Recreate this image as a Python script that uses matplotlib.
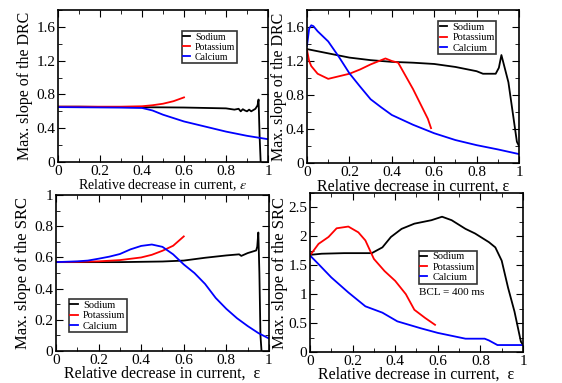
import numpy as np
import matplotlib.pyplot as plt
from matplotlib.ticker import MultipleLocator

plt.rcParams['font.family'] = ['Liberation Serif', 'DejaVu Serif']
plt.rcParams['mathtext.fontset'] = 'stix'

# --- panel 1: DRC, default BCL
x1_na = [0, 0.1, 0.2, 0.3, 0.4, 0.5, 0.6, 0.7, 0.8, 0.84, 0.86, 0.87, 0.88, 0.89, 0.9, 0.91, 0.92, 0.93, 0.94, 0.95, 0.955, 0.96, 0.965]
y1_na = [0.655, 0.655, 0.652, 0.65, 0.648, 0.647, 0.645, 0.64, 0.635, 0.62, 0.63, 0.6, 0.625, 0.61, 0.6, 0.62, 0.6, 0.615, 0.63, 0.67, 0.74, 0.3, 0.0]
x1_k = [0, 0.1, 0.2, 0.3, 0.4, 0.45, 0.5, 0.55, 0.6]
y1_k = [0.655, 0.655, 0.655, 0.655, 0.66, 0.672, 0.69, 0.72, 0.765]
x1_ca = [0, 0.1, 0.2, 0.3, 0.4, 0.45, 0.5, 0.6, 0.7, 0.8, 0.9, 1.0]
y1_ca = [0.65, 0.648, 0.646, 0.644, 0.64, 0.61, 0.56, 0.48, 0.42, 0.36, 0.31, 0.27]

# --- panel 2: DRC, BCL 400
x2_na = [0, 0.1, 0.2, 0.3, 0.4, 0.5, 0.6, 0.7, 0.8, 0.83, 0.89, 0.905, 0.917, 0.95, 0.99, 1.0]
y2_na = [1.34, 1.29, 1.24, 1.21, 1.19, 1.18, 1.165, 1.13, 1.08, 1.05, 1.05, 1.12, 1.27, 0.95, 0.25, 0.2]
x2_k = [0, 0.01, 0.02, 0.05, 0.1, 0.15, 0.2, 0.25, 0.3, 0.35, 0.37, 0.4, 0.43, 0.5, 0.57, 0.585]
y2_k = [1.33, 1.2, 1.14, 1.05, 0.99, 1.02, 1.05, 1.1, 1.16, 1.21, 1.23, 1.2, 1.18, 0.87, 0.52, 0.41]
x2_ca = [0, 0.01, 0.02, 0.03, 0.05, 0.1, 0.15, 0.2, 0.25, 0.3, 0.35, 0.4, 0.5, 0.6, 0.7, 0.8, 0.9, 1.0]
y2_ca = [1.38, 1.58, 1.62, 1.61, 1.55, 1.43, 1.25, 1.055, 0.9, 0.75, 0.655, 0.565, 0.45, 0.35, 0.27, 0.21, 0.16, 0.105]

# --- panel 3: SRC, default BCL
x3_na = [0, 0.1, 0.2, 0.3, 0.4, 0.5, 0.6, 0.7, 0.8, 0.86, 0.87, 0.9, 0.94, 0.945, 0.95, 0.955, 0.96, 0.965]
y3_na = [0.57, 0.57, 0.57, 0.57, 0.572, 0.574, 0.58, 0.598, 0.613, 0.62, 0.61, 0.628, 0.645, 0.67, 0.76, 0.5, 0.1, 0.0]
x3_k = [0, 0.1, 0.2, 0.3, 0.4, 0.45, 0.5, 0.55, 0.6]
y3_k = [0.57, 0.572, 0.575, 0.583, 0.6, 0.617, 0.643, 0.675, 0.735]
x3_ca = [0, 0.1, 0.15, 0.2, 0.25, 0.3, 0.35, 0.4, 0.45, 0.5, 0.55, 0.6, 0.65, 0.7, 0.75, 0.8, 0.85, 0.9, 0.95, 1.0]
y3_ca = [0.57, 0.575, 0.58, 0.592, 0.605, 0.622, 0.652, 0.674, 0.683, 0.668, 0.62, 0.555, 0.5, 0.43, 0.34, 0.27, 0.21, 0.16, 0.115, 0.08]

# --- panel 4: SRC, BCL = 400 ms
x4_na = [0, 0.055, 0.16, 0.29, 0.34, 0.38, 0.43, 0.49, 0.57, 0.62, 0.665, 0.73, 0.775, 0.84, 0.87, 0.9, 0.93, 0.96, 0.99, 1.0]
y4_na = [1.68, 1.7, 1.71, 1.71, 1.81, 1.99, 2.13, 2.22, 2.28, 2.34, 2.28, 2.13, 2.05, 1.9, 1.81, 1.58, 1.11, 0.7, 0.18, 0.12]
x4_k = [0, 0.04, 0.087, 0.125, 0.18, 0.227, 0.26, 0.3, 0.35, 0.4, 0.45, 0.49, 0.54, 0.587]
y4_k = [1.67, 1.87, 1.99, 2.14, 2.17, 2.07, 1.93, 1.61, 1.4, 1.23, 1.0, 0.73, 0.59, 0.47]
x4_ca = [0, 0.04, 0.1, 0.18, 0.26, 0.34, 0.41, 0.52, 0.6, 0.73, 0.82, 0.84, 0.88, 1.0]
y4_ca = [1.67, 1.52, 1.29, 1.03, 0.79, 0.68, 0.53, 0.41, 0.33, 0.23, 0.23, 0.2, 0.12, 0.12]

names = ["Sodium", "Potassium", "Calcium"]
colors = ["black", "red", "blue"]

fig = plt.figure(figsize=(5.62, 3.83), dpi=100)
ax1 = fig.add_axes([0.1032, 0.577, 0.3737, 0.397])
ax2 = fig.add_axes([0.5463, 0.5744, 0.3772, 0.3995])
ax3 = fig.add_axes([0.0996, 0.0836, 0.379, 0.407])
ax4 = fig.add_axes([0.5516, 0.081, 0.379, 0.415])

panels = [
    (ax1, [(x1_na, y1_na), (x1_k, y1_k), (x1_ca, y1_ca)]),
    (ax2, [(x2_na, y2_na), (x2_k, y2_k), (x2_ca, y2_ca)]),
    (ax3, [(x3_na, y3_na), (x3_k, y3_k), (x3_ca, y3_ca)]),
    (ax4, [(x4_na, y4_na), (x4_k, y4_k), (x4_ca, y4_ca)]),
]

for ax, series in panels:
    for (x, y), n, c in zip(series, names, colors):
        ax.plot(x, y, color=c, lw=1.3, label=n)
    ax.set_xlim(0, 1)
    ax.xaxis.set_minor_locator(MultipleLocator(0.1))
    ax.tick_params(which='both', direction='in', top=True, right=True, labelsize=11, pad=2)
    ax.tick_params(which='major', length=5)
    ax.tick_params(which='minor', length=3)
    ax.set_xticks([0, 0.2, 0.4, 0.6, 0.8, 1.0])
    ax.set_xticklabels(["0", "0.2", "0.4", "0.6", "0.8", "1"])
    for s in ax.spines.values():
        s.set_linewidth(1.2)

ax1.set_ylim(0, 1.8)
ax1.yaxis.set_minor_locator(MultipleLocator(0.2))
ax1.set_yticks([0, 0.4, 0.8, 1.2, 1.6])
ax1.set_yticklabels(["0", "0.4", "0.8", "1.2", "1.6"])
ax1.set_ylabel("Max. slope of the DRC", fontsize=11.5, labelpad=2)
ax1.set_xlabel(r"Relative decrease in current, $\varepsilon$", fontsize=10, labelpad=0)

ax2.set_ylim(0, 1.8)
ax2.yaxis.set_minor_locator(MultipleLocator(0.2))
ax2.set_yticks([0, 0.4, 0.8, 1.2, 1.6])
ax2.set_yticklabels(["0", "0.4", "0.8", "1.2", "1.6"])
ax2.set_ylabel("Max. slope of the DRC", fontsize=11.5, labelpad=-1)
ax2.set_xlabel("Relative decrease in current, \u03b5", fontsize=11.5, labelpad=0)

ax3.set_ylim(0, 1)
ax3.yaxis.set_minor_locator(MultipleLocator(0.1))
ax3.set_yticks([0, 0.2, 0.4, 0.6, 0.8, 1.0])
ax3.set_yticklabels(["0", "0.2", "0.4", "0.6", "0.8", "1"])
ax3.set_ylabel("Max. slope of the SRC", fontsize=12, labelpad=2)
ax3.set_xlabel("Relative decrease in current,  \u03b5", fontsize=11.5, labelpad=-1)

ax4.set_ylim(0, 2.75)
ax4.yaxis.set_minor_locator(MultipleLocator(0.25))
ax4.set_yticks([0, 0.5, 1, 1.5, 2, 2.5])
ax4.set_yticklabels(["0", "0.5", "1", "1.5", "2", "2.5"])
ax4.set_ylabel("Max. slope of the SRC", fontsize=12, labelpad=0)
ax4.set_xlabel("Relative decrease in current,  \u03b5", fontsize=11.5, labelpad=-1)
ax4.text(0.51, 0.36, "BCL = 400 ms", transform=ax4.transAxes, fontsize=8)

leg_kw = dict(frameon=True, fancybox=False, handlelength=0.7,
              handletextpad=0.5, borderpad=0.15, labelspacing=0.1, borderaxespad=0)
for ax, loc, fs in [(ax1, (0.59, 0.65), 7), (ax2, (0.62, 0.71), 7.5),
                    (ax3, (0.06, 0.12), 7.5), (ax4, (0.51, 0.43), 7.5)]:
    leg = ax.legend(loc='lower left', bbox_to_anchor=loc, fontsize=fs, **leg_kw)
    leg.get_frame().set_edgecolor('black')
    leg.get_frame().set_linewidth(1.2)

fig.savefig("out.png", dpi=100)
